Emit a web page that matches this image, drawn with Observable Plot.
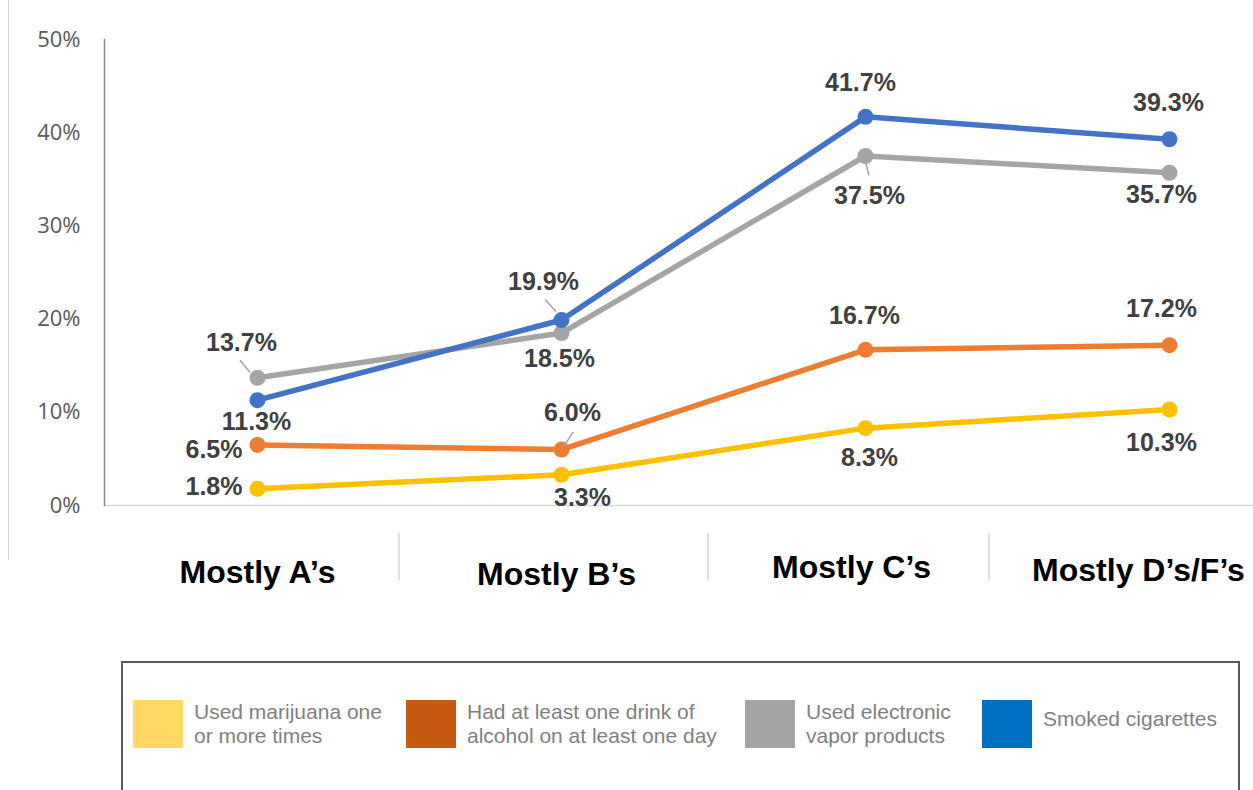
<!DOCTYPE html>
<html><head><meta charset="utf-8">
<script src="https://cdn.jsdelivr.net/npm/d3@7"></script>
<script src="https://cdn.jsdelivr.net/npm/@observablehq/plot@0.6"></script>
<style>
body{margin:0;background:#fff;font-family:"Liberation Sans",Arial,sans-serif;}
#wrap{position:relative;width:1253px;height:790px;overflow:hidden;background:#fff;}
#edge{position:absolute;left:8px;top:0;height:560px;border-left:1px solid #d9d9d9;}
#chart{position:absolute;left:0;top:0;}
#legend{position:absolute;left:121px;top:661px;width:1119px;height:160px;border:2px solid #595959;box-sizing:border-box;}
.item{position:absolute;top:37px;display:flex;align-items:flex-start;}
.sw{width:50px;height:48px;flex:none;}
.lab{margin-left:11px;font-size:21px;color:#808080;line-height:24px;margin-top:0px;white-space:nowrap;}
</style></head>
<body>
<div id="wrap"><div id="edge"></div><div id="chart"></div><div id="legend"></div></div>
<script>
const categories = ["Mostly A’s","Mostly B’s","Mostly C’s","Mostly D’s/F’s"];
const seriesNames = ["Used marijuana one or more times","Had at least one drink of alcohol on at least one day","Used electronic vapor products","Smoked cigarettes"];
const marijuana = [1.8, 3.3, 8.3, 10.3];
const alcohol = [6.5, 6.0, 16.7, 17.2];
const vapor = [13.7, 18.5, 37.5, 35.7];
const cigarettes = [11.3, 19.9, 41.7, 39.3];
const yTicks = [0, 10, 20, 30, 40, 50];
const lineColors = ["#FFC000", "#ED7D31", "#A5A5A5", "#4472C4"];
const legendColors = ["#FFD966", "#C55A11", "#A5A5A5", "#0070C0"];
const legendLines = [["Used marijuana one","or more times"],["Had at least one drink of","alcohol on at least one day"],["Used electronic","vapor products"],["Smoked cigarettes"]];

// label placement (pixel offsets from the point): [dx, dy, anchor, leader]
const labelPlacement = [
  [[-15,-2,"end"],[21,23,"middle"],[4,30,"middle"],[-8,33,"middle"]],
  [[-15,5,"end"],[11,-37,"middle",[3,-3,12,-17]],[-1,-34,"middle"],[-8,-36,"middle"]],
  [[-16,-35,"middle",[-17,-17,-7,-5]],[-2,26,"middle"],[4,40,"middle",[1,8,4,20]],[-8,22,"middle"]],
  [[-1,22,"middle"],[-18,-38,"middle",[-16,-20,-5,-8]],[-5,-34,"middle"],[-1,-36,"middle"]]
];
const xLabelDx = [0, -5, -14, -31];
const xLabelDy = [77, 79, 72, 75];

const seriesValues = [marijuana, alcohol, vapor, cigarettes];
const rows = seriesValues.flatMap((vals, s) => vals.map((v, i) => ({series: seriesNames[s], s, i, cat: categories[i], v})));

const W = 1253, H = 620;
const marks = [];
marks.push(Plot.ruleY([0], {stroke: "#d9d9d9", strokeWidth: 1.5}));
marks.push(Plot.frame({anchor: "left", stroke: "#868686", strokeWidth: 1.5}));
marks.push(Plot.axisY({ticks: yTicks, tickFormat: d => d + "%", tickSize: 0, tickPadding: 24, fontSize: 22, fill: "#595959", fontFamily: "Open Sans, sans-serif", label: null}));
// separators between categories
marks.push((index, scales) => {
  const g = d3.create("svg:g").attr("stroke", "#bfbfbf").attr("stroke-width", 1);
  for (let i = 0; i < categories.length - 1; i++) {
    const xm = (scales.x(categories[i]) + scales.x(categories[i + 1])) / 2 - [10, 5, 28][i];
    g.append("line").attr("x1", xm).attr("x2", xm).attr("y1", scales.y(0) + 28).attr("y2", scales.y(0) + 75);
  }
  return g.node();
});
seriesNames.forEach((name, s) => {
  const d = rows.filter(r => r.s === s);
  marks.push(Plot.line(d, {x: "cat", y: "v", stroke: lineColors[s], strokeWidth: 5.5, curve: "linear"}));
  marks.push(Plot.dot(d, {x: "cat", y: "v", fill: lineColors[s], r: 8}));
});
// leader lines
marks.push((index, scales) => {
  const g = d3.create("svg:g").attr("stroke", "#a6a6a6").attr("stroke-width", 1.5);
  rows.forEach(r => {
    const p = labelPlacement[r.s][r.i];
    if (p[3]) {
      const px = scales.x(r.cat), py = scales.y(r.v);
      g.append("line").attr("x1", px + p[3][0]).attr("y1", py + p[3][1]).attr("x2", px + p[3][2]).attr("y2", py + p[3][3]);
    }
  });
  return g.node();
});
rows.forEach(r => {
  const p = labelPlacement[r.s][r.i];
  marks.push(Plot.text([r], {x: "cat", y: "v", text: d => d.v.toFixed(1) + "%", dx: p[0], dy: p[1], textAnchor: p[2], fontSize: 25, fontWeight: "bold", fill: "#404040"}));
});
categories.forEach((c, i) => {
  marks.push(Plot.text([c], {x: d => d, frameAnchor: "bottom", text: d => d, dx: xLabelDx[i], dy: xLabelDy[i], fontSize: 32, fontWeight: "bold", fill: "#000"}));
});

const chart = Plot.plot({
  width: W, height: H,
  marginLeft: 104, marginRight: -68, marginTop: 39, marginBottom: H - 505,
  style: {fontFamily: "Liberation Sans, Arial, sans-serif", background: "transparent", overflow: "visible"},
  x: {type: "point", domain: categories, padding: 0.5, axis: null},
  y: {domain: [0, 50], axis: null},
  marks
});
document.getElementById("chart").appendChild(chart);

const legend = document.getElementById("legend");
const itemLeft = [10, 283, 622, 859];
legendLines.forEach((lines, k) => {
  const it = document.createElement("div");
  it.className = "item";
  it.style.left = itemLeft[k] + "px";
  const sw = document.createElement("div");
  sw.className = "sw"; sw.style.background = legendColors[k];
  const lab = document.createElement("div");
  lab.className = "lab";
  lab.innerHTML = lines.join("<br>");
  if (lines.length === 1) lab.style.marginTop = "7px";
  it.appendChild(sw); it.appendChild(lab);
  legend.appendChild(it);
});
</script>
</body></html>
